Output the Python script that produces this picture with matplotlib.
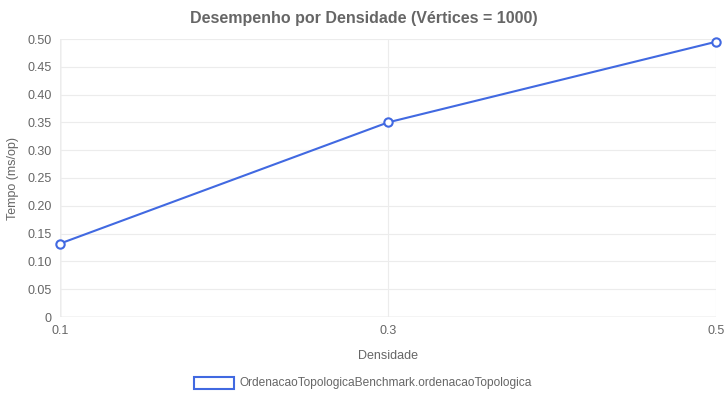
import matplotlib
matplotlib.use('Agg')
import matplotlib.pyplot as plt
from matplotlib.patches import Rectangle

# data
densidades = ['0.1', '0.3', '0.5']
tempos = [0.132, 0.350, 0.495]
serie = 'OrdenacaoTopologicaBenchmark.ordenacaoTopologica'
cor = '#4169e1'

plt.rcParams['font.family'] = ['Liberation Sans', 'DejaVu Sans']

fig = plt.figure(figsize=(7.28, 4.0), dpi=100)
ax = fig.add_axes([0.0824, 0.2075, 0.9011, 0.695])

x = list(range(len(densidades)))
ax.plot(x, tempos, color=cor, linewidth=1.5, marker='o', markersize=6,
        markerfacecolor='white', markeredgecolor=cor, markeredgewidth=1.5,
        clip_on=False, zorder=3)

ax.set_xlim(0, len(densidades) - 1)
ax.set_ylim(0, 0.5)
ax.set_xticks(x)
ax.set_xticklabels(densidades)
yt = [i * 0.05 for i in range(11)]
ax.set_yticks(yt)
ax.set_yticklabels(['0'] + ['%.2f' % v for v in yt[1:]])
ax.tick_params(colors='#666666', labelsize=9, length=0, pad=6)
ax.grid(True, color='#ececec', linewidth=0.8)
for s in ax.spines.values():
    s.set_visible(False)
ax.axhline(0, color='#d0d0d0', linewidth=1, zorder=1)
ax.axvline(0, color='#d0d0d0', linewidth=1, zorder=1)

ax.set_xlabel('Densidade', color='#666666', fontsize=9, labelpad=9)
ax.set_ylabel('Tempo (ms/op)', color='#666666', fontsize=9, labelpad=6)
fig.text(0.5, 0.955, 'Desempenho por Densidade (Vértices = 1000)', ha='center',
         va='center', fontsize=11.5, fontweight='bold', color='#666666')

# legend drawn like the reference box
fig.patches.append(Rectangle((194 / 728, 1 - 389 / 400), 40 / 728, 12 / 400,
                             transform=fig.transFigure, facecolor='white',
                             edgecolor=cor, linewidth=1.5))
fig.text(240 / 728, 1 - 383 / 400, serie, ha='left', va='center',
         fontsize=8.6, color='#666666')

fig.savefig('out.png', dpi=100)
